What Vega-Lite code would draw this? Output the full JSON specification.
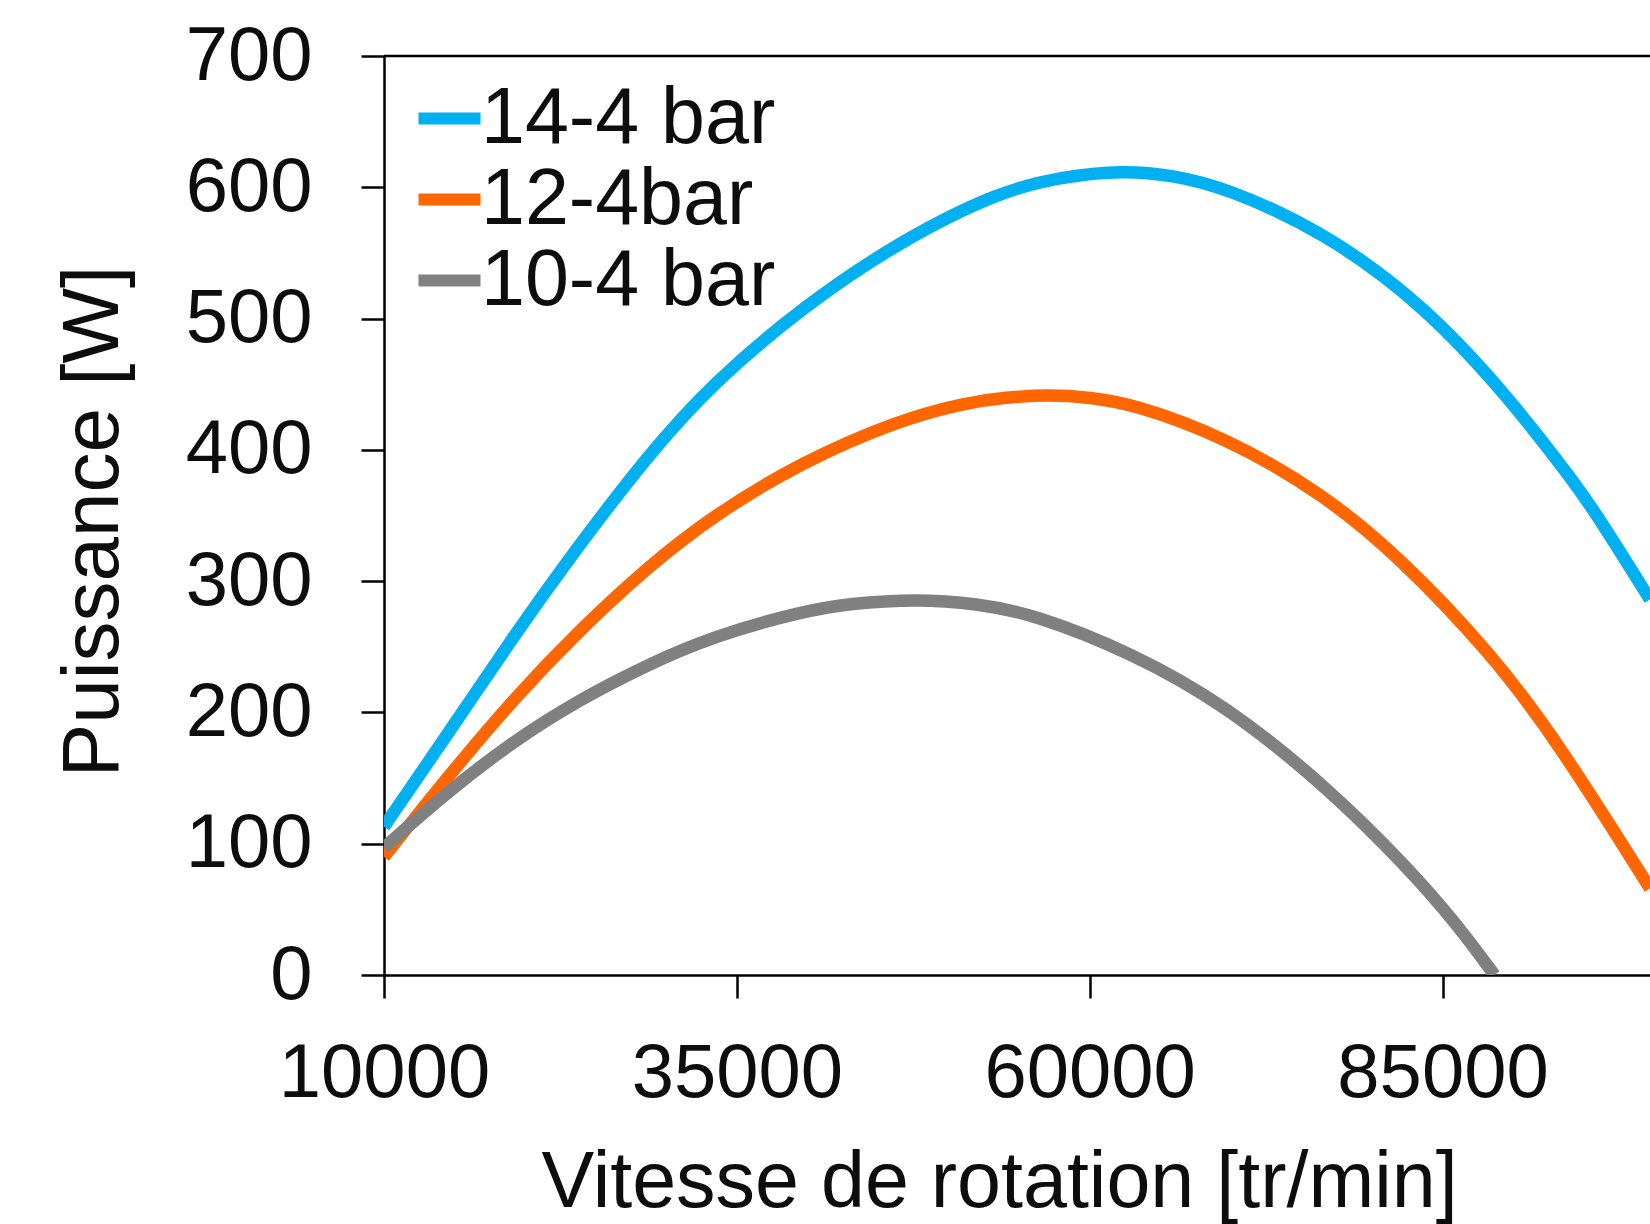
{
  "$schema": "https://vega.github.io/schema/vega-lite/v6.json",
  "width": 1266,
  "height": 919,
  "autosize": {"type": "none"},
  "padding": {"left": 384, "top": 56, "right": 0, "bottom": 249},
  "background": "white",
  "config": {
    "view": {"stroke": null},
    "font": "Liberation Sans",
    "axis": {
      "grid": false,
      "domainColor": "#000000",
      "tickColor": "#000000",
      "labelColor": "#0d0d0d",
      "titleColor": "#0d0d0d",
      "domainWidth": 2.5,
      "tickWidth": 2.5,
      "tickSize": 23,
      "labelFont": "Liberation Sans",
      "titleFont": "Liberation Sans",
      "titleFontWeight": "normal"
    }
  },
  "layer": [
    {
      "data": {
        "values": [
          {"serie": "14-4 bar", "rpm": 10000, "W": 113},
          {"serie": "14-4 bar", "rpm": 13966, "W": 175},
          {"serie": "14-4 bar", "rpm": 19632, "W": 265},
          {"serie": "14-4 bar", "rpm": 23030, "W": 316},
          {"serie": "14-4 bar", "rpm": 28604, "W": 395},
          {"serie": "14-4 bar", "rpm": 33300, "W": 451},
          {"serie": "14-4 bar", "rpm": 39670, "W": 509},
          {"serie": "14-4 bar", "rpm": 46540, "W": 559},
          {"serie": "14-4 bar", "rpm": 53625, "W": 597},
          {"serie": "14-4 bar", "rpm": 58000, "W": 608},
          {"serie": "14-4 bar", "rpm": 62340, "W": 613},
          {"serie": "14-4 bar", "rpm": 66000, "W": 609},
          {"serie": "14-4 bar", "rpm": 69560, "W": 600},
          {"serie": "14-4 bar", "rpm": 76640, "W": 566},
          {"serie": "14-4 bar", "rpm": 83720, "W": 510},
          {"serie": "14-4 bar", "rpm": 89700, "W": 440},
          {"serie": "14-4 bar", "rpm": 94350, "W": 375},
          {"serie": "14-4 bar", "rpm": 96100, "W": 348},
          {"serie": "14-4 bar", "rpm": 99700, "W": 286},
          {"serie": "12-4bar", "rpm": 10000, "W": 90},
          {"serie": "12-4bar", "rpm": 14440, "W": 150},
          {"serie": "12-4bar", "rpm": 19140, "W": 210},
          {"serie": "12-4bar", "rpm": 23880, "W": 263},
          {"serie": "12-4bar", "rpm": 28600, "W": 310},
          {"serie": "12-4bar", "rpm": 33320, "W": 350},
          {"serie": "12-4bar", "rpm": 39630, "W": 391},
          {"serie": "12-4bar", "rpm": 46540, "W": 423},
          {"serie": "12-4bar", "rpm": 51270, "W": 436},
          {"serie": "12-4bar", "rpm": 54000, "W": 440},
          {"serie": "12-4bar", "rpm": 57170, "W": 442},
          {"serie": "12-4bar", "rpm": 60000, "W": 440},
          {"serie": "12-4bar", "rpm": 63050, "W": 435},
          {"serie": "12-4bar", "rpm": 69560, "W": 410},
          {"serie": "12-4bar", "rpm": 76640, "W": 366},
          {"serie": "12-4bar", "rpm": 82070, "W": 317},
          {"serie": "12-4bar", "rpm": 88450, "W": 245},
          {"serie": "12-4bar", "rpm": 93140, "W": 178},
          {"serie": "12-4bar", "rpm": 99700, "W": 66},
          {"serie": "10-4 bar", "rpm": 10000, "W": 97},
          {"serie": "10-4 bar", "rpm": 14440, "W": 139},
          {"serie": "10-4 bar", "rpm": 19140, "W": 178},
          {"serie": "10-4 bar", "rpm": 23880, "W": 210},
          {"serie": "10-4 bar", "rpm": 28600, "W": 236},
          {"serie": "10-4 bar", "rpm": 33320, "W": 258},
          {"serie": "10-4 bar", "rpm": 39630, "W": 277},
          {"serie": "10-4 bar", "rpm": 43000, "W": 283},
          {"serie": "10-4 bar", "rpm": 47720, "W": 286.5},
          {"serie": "10-4 bar", "rpm": 52000, "W": 283},
          {"serie": "10-4 bar", "rpm": 55990, "W": 275},
          {"serie": "10-4 bar", "rpm": 63070, "W": 245},
          {"serie": "10-4 bar", "rpm": 69560, "W": 206},
          {"serie": "10-4 bar", "rpm": 76640, "W": 145},
          {"serie": "10-4 bar", "rpm": 82540, "W": 82},
          {"serie": "10-4 bar", "rpm": 86080, "W": 38},
          {"serie": "10-4 bar", "rpm": 88680, "W": 0}
        ]
      },
      "mark": {"type": "line", "strokeWidth": 12.5, "interpolate": "basis", "clip": true},
      "encoding": {
        "x": {
          "field": "rpm",
          "type": "quantitative",
          "scale": {"domain": [10000, 99700], "nice": false, "zero": false},
          "axis": {
            "values": [10000, 35000, 60000, 85000],
            "format": "d",
            "labelFontSize": 76,
            "labelPadding": 38,
            "labelLimit": 500,
            "labelFlush": false,
            "labelOverlap": false,
            "title": "Vitesse de rotation [tr/min]",
            "titleFontSize": 79,
            "titleX": 615,
            "titleY": 231,
            "titleAlign": "center",
            "titleBaseline": "alphabetic"
          }
        },
        "y": {
          "field": "W",
          "type": "quantitative",
          "scale": {"domain": [0, 700], "nice": false},
          "axis": {
            "values": [0, 100, 200, 300, 400, 500, 600, 700],
            "labelFontSize": 76,
            "labelPadding": 49,
            "labelLimit": 500,
            "labelFlush": false,
            "labelOverlap": false,
            "title": "Puissance [W]",
            "titleFontSize": 80,
            "titleAngle": -90,
            "titleX": -267,
            "titleY": 465,
            "titleAlign": "center",
            "titleBaseline": "alphabetic"
          }
        },
        "color": {
          "field": "serie",
          "type": "nominal",
          "scale": {
            "domain": ["14-4 bar", "12-4bar", "10-4 bar"],
            "range": ["#00B0F0", "#FF6600", "#808080"]
          },
          "legend": {
            "orient": "none",
            "legendX": 26,
            "legendY": 23,
            "title": null,
            "symbolType": "stroke",
            "symbolSize": 3844,
            "symbolStrokeWidth": 12,
            "labelFontSize": 79,
            "labelFont": "Liberation Sans",
            "labelColor": "#0d0d0d",
            "labelOffset": -8,
            "labelLimit": 600,
            "rowPadding": 1,
            "padding": 0
          }
        }
      }
    },
    {
      "data": {"values": [{}]},
      "mark": {"type": "rule", "color": "#000000", "strokeWidth": 2.5},
      "encoding": {"y": {"datum": 700}}
    }
  ]
}
